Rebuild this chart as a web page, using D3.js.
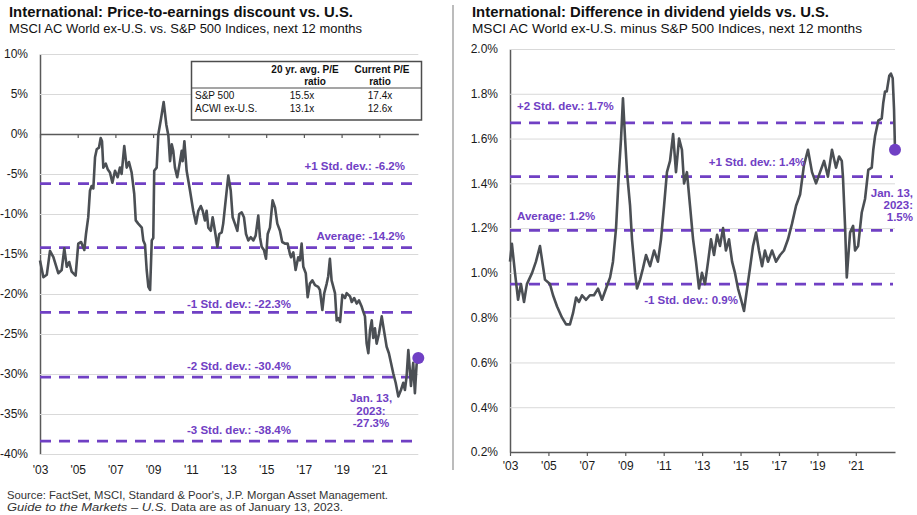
<!DOCTYPE html>
<html><head><meta charset="utf-8">
<script src="https://cdn.jsdelivr.net/npm/d3@7"></script>
<style>
body{margin:0;background:#fff;}
svg{display:block;font-family:"Liberation Sans",Arial,sans-serif;}
</style>
</head><body>
<svg id="chart" width="917" height="515"></svg>
<script>
// ---------------- DATA ----------------
const xTickYears = [2003,2005,2007,2009,2011,2013,2015,2017,2019,2021];

// Left: P/E discount (%)
const peYears = [2003.00,2003.18,2003.36,2003.53,2003.71,2003.97,2004.15,2004.29,2004.42,2004.55,2004.68,2004.89,
2005.03,2005.18,2005.35,2005.44,2005.56,2005.65,2005.74,2005.83,2005.92,2006.01,2006.13,2006.22,2006.29,2006.36,
2006.49,2006.59,2006.71,2006.84,2006.98,2007.12,2007.24,2007.33,2007.47,2007.60,2007.72,2007.86,2008.00,2008.08,
2008.21,2008.40,2008.48,2008.57,2008.66,2008.75,2008.84,2008.93,2009.01,2009.06,2009.19,2009.28,2009.42,2009.56,
2009.70,2009.81,2009.90,2009.99,2010.07,2010.16,2010.28,2010.43,2010.52,2010.57,2010.66,2010.78,2010.96,2011.13,
2011.28,2011.40,2011.53,2011.63,2011.75,2011.84,2011.93,2012.06,2012.16,2012.28,2012.41,2012.51,2012.64,2012.72,
2012.85,2012.99,2013.12,2013.22,2013.34,2013.47,2013.57,2013.70,2013.82,2013.93,2014.05,2014.18,2014.32,2014.44,
2014.58,2014.67,2014.76,2014.88,2014.99,2015.08,2015.20,2015.34,2015.47,2015.59,2015.73,2015.85,2016.00,2016.14,
2016.26,2016.32,2016.44,2016.56,2016.70,2016.79,2016.88,2016.97,2017.10,2017.20,2017.32,2017.45,2017.59,2017.76,
2017.85,2017.98,2018.08,2018.21,2018.29,2018.38,2018.47,2018.65,2018.74,2018.82,2018.92,2019.04,2019.18,2019.27,
2019.45,2019.54,2019.67,2019.80,2019.92,2020.07,2020.15,2020.24,2020.33,2020.42,2020.51,2020.60,2020.68,2020.77,
2020.86,2020.98,2021.13,2021.21,2021.30,2021.39,2021.51,2021.62,2021.74,2021.87,2022.01,2022.15,2022.27,2022.36,
2022.45,2022.54,2022.59,2022.68,2022.80,2022.89,2022.98,2023.07];
const peValues = [-15.8,-17.9,-17.6,-14.6,-15.4,-17.4,-17.0,-14.3,-16.6,-16.0,-17.2,-17.7,
-13.7,-13.5,-14.5,-12.5,-10.4,-7.1,-6.5,-6.8,-2.9,-1.9,-1.7,-0.5,-0.9,-4.2,
-3.7,-4.4,-4.8,-6.1,-4.6,-5.4,-4.2,-5.0,-1.5,-4.2,-3.5,-4.8,-7.5,-10.8,
-11.2,-11.7,-13.3,-13.8,-17.0,-19.1,-19.5,-13.3,-13.0,-4.6,-4.2,0.0,1.9,4.0,
1.2,-0.2,-3.4,-1.3,-2.1,-4.2,-5.4,-3.4,-2.1,-3.4,-0.9,-4.6,-7.1,-9.6,
-11.2,-9.6,-9.0,-9.6,-10.8,-9.6,-11.7,-12.1,-10.4,-12.1,-14.1,-12.5,-12.3,-11.2,
-8.3,-5.2,-7.1,-10.4,-11.2,-12.1,-10.0,-9.8,-10.4,-12.5,-13.3,-12.9,-13.3,-12.7,
-10.2,-12.9,-14.1,-14.5,-15.6,-12.5,-11.7,-8.3,-9.2,-11.2,-12.1,-13.5,-13.7,-13.7,
-15.0,-15.4,-14.8,-17.0,-15.4,-15.8,-13.7,-16.6,-17.4,-20.4,-18.7,-18.3,-18.9,-19.1,
-19.5,-22.0,-19.9,-18.7,-17.8,-15.6,-18.3,-19.9,-23.3,-23.0,-23.5,-20.1,-20.5,-19.9,
-20.3,-21.0,-20.5,-21.2,-20.8,-21.6,-22.2,-22.8,-26.2,-27.4,-24.5,-23.3,-25.5,-24.3,
-26.2,-25.0,-22.8,-24.0,-25.3,-26.6,-27.4,-28.6,-29.9,-31.1,-32.8,-32.0,-31.1,-32.0,
-30.3,-27.0,-28.5,-31.5,-28.6,-32.4,-28.8,-28.0];
const peTicks = [10,5,0,-5,-10,-15,-20,-25,-30,-35,-40];
const peStdLevels = [-6.2,-14.2,-22.3,-30.4,-38.4];
const peStdLabels = ["+1 Std. dev.: -6.2%","Average: -14.2%","-1 Std. dev.: -22.3%","-2 Std. dev.: -30.4%","-3 Std. dev.: -38.4%"];
const peLastLabel = ["Jan. 13,","2023:","-27.3%"];

const tableHeader1 = ["20 yr. avg. P/E","ratio"];
const tableHeader2 = ["Current P/E","ratio"];
const tableRows = ["S&P 500","ACWI ex-U.S."];
const tableAvg = ["15.5x","13.1x"];
const tableCurrent = ["17.4x","12.6x"];

// Right: dividend yield difference (%)
const dyYears = [2003.00,2003.10,2003.26,2003.42,2003.57,2003.73,2003.88,2004.15,2004.35,2004.56,2004.82,2005.08,
2005.24,2005.45,2005.71,2005.92,2006.12,2006.28,2006.44,2006.59,2006.75,2006.96,2007.16,2007.37,2007.58,2007.79,
2008.00,2008.21,2008.36,2008.52,2008.67,2008.78,2008.88,2008.99,2009.09,2009.25,2009.35,2009.51,2009.61,2009.77,
2009.92,2010.08,2010.29,2010.50,2010.70,2010.86,2011.02,2011.17,2011.33,2011.49,2011.64,2011.80,2011.95,2012.06,
2012.21,2012.37,2012.53,2012.68,2012.84,2012.99,2013.15,2013.31,2013.46,2013.62,2013.78,2013.93,2014.09,2014.24,
2014.40,2014.56,2014.71,2014.87,2015.03,2015.18,2015.34,2015.49,2015.65,2015.81,2015.96,2016.12,2016.27,2016.43,
2016.64,2016.85,2017.06,2017.26,2017.47,2017.68,2017.89,2018.10,2018.30,2018.51,2018.72,2018.93,2019.14,2019.35,
2019.55,2019.76,2019.97,2020.13,2020.27,2020.33,2020.44,2020.53,2020.70,2020.86,2020.96,2021.12,2021.31,2021.48,
2021.65,2021.83,2021.91,2022.00,2022.17,2022.35,2022.43,2022.52,2022.61,2022.74,2022.83,2022.92,2022.99,2023.04];
const dyValues = [1.05,1.13,1.00,0.88,0.95,0.87,0.95,1.00,1.05,1.12,0.97,0.95,
0.90,0.85,0.80,0.77,0.77,0.82,0.89,0.87,0.90,0.88,0.90,0.90,0.93,0.88,
0.93,0.98,1.05,1.20,1.45,1.60,1.78,1.60,1.45,1.30,1.15,1.00,0.93,0.97,
1.02,1.08,1.03,1.10,1.05,1.15,1.30,1.45,1.50,1.62,1.45,1.60,1.55,1.40,
1.45,1.30,1.15,1.05,0.93,1.00,0.95,1.05,1.15,1.08,1.17,1.12,1.20,1.10,
1.15,1.05,1.00,0.93,0.88,0.83,0.93,1.02,1.12,1.18,1.10,1.03,1.10,1.05,
1.10,1.05,1.08,1.10,1.15,1.22,1.30,1.35,1.48,1.55,1.45,1.40,1.45,1.50,
1.43,1.55,1.47,1.52,1.50,1.43,1.21,0.98,1.18,1.21,1.10,1.12,1.27,1.33,
1.46,1.47,1.55,1.61,1.68,1.69,1.76,1.81,1.81,1.88,1.89,1.87,1.73,1.55];
const dyTicks = [0.2,0.4,0.6,0.8,1.0,1.2,1.4,1.6,1.8,2.0];
const dyStdLevels = [1.67,1.43,1.19,0.95];
const dyStdLabels = ["+2 Std. dev.: 1.7%","+1 Std. dev.: 1.4%","Average: 1.2%","-1 Std. dev.: 0.9%"];
const dyLastLabel = ["Jan. 13,","2023:","1.5%"];

// ---------------- STYLE ----------------
const PURPLE = "#7040c4";
const LINE = "#4b4f54";
const GRID = "#d9d9d9";
const AXIS = "#595959";
const TXT = "#1a1a1a";

const svg = d3.select("#chart");

// ---------- titles ----------
function title(x, y, t, size, weight, len){
  svg.append("text").attr("x",x).attr("y",y).attr("font-size",size).attr("font-weight",weight)
    .attr("fill","#111").attr("textLength",len).attr("lengthAdjust","spacingAndGlyphs").text(t);
}
title(9, 17, "International: Price-to-earnings discount vs. U.S.", 15, "bold", 344);
title(9, 33, "MSCI AC World ex-U.S. vs. S&P 500 Indices, next 12 months", 13, "normal", 353);
title(472, 17, "International: Difference in dividend yields vs. U.S.", 15, "bold", 357);
title(472, 33, "MSCI AC World ex-U.S. minus S&P 500 Indices, next 12 months", 13, "normal", 390);

// divider
svg.append("line").attr("x1",453).attr("x2",453).attr("y1",5).attr("y2",470)
  .attr("stroke","#a6a6a6").attr("stroke-width",1.5);

// ============ LEFT CHART ============
const xL = d3.scaleLinear().domain([2003, 2023.07]).range([40, 418.3]);
const yL = d3.scaleLinear().domain([-40, 10]).range([454, 54]);
const L = svg.append("g");

const gyL = L.append("g").attr("transform","translate(40,0)")
  .call(d3.axisLeft(yL).tickValues(peTicks).tickSize(-378.3).tickSizeOuter(0).tickPadding(12).tickFormat(d=>d+"%"));
gyL.selectAll(".tick line").attr("stroke",GRID).attr("stroke-width",1);
gyL.selectAll(".tick text").attr("font-size",12).attr("fill",TXT).attr("font-family","Liberation Sans, Arial, sans-serif");
gyL.select(".domain").attr("stroke",AXIS).attr("stroke-width",1.5);

// zero line with ticks
const gzL = L.append("g").attr("transform",`translate(0,${yL(0)})`)
  .call(d3.axisBottom(xL).tickValues(xTickYears).tickSize(4).tickSizeOuter(0).tickFormat(""));
gzL.selectAll(".tick line").attr("stroke",AXIS).attr("stroke-width",1.2);
gzL.select(".domain").attr("stroke",AXIS).attr("stroke-width",1.5);

// x labels
const gxL = L.append("g").attr("transform",`translate(0,${yL(-40)})`)
  .call(d3.axisBottom(xL).tickValues(xTickYears).tickSize(0).tickPadding(11).tickFormat(d=>"'"+String(d).slice(2)));
gxL.select(".domain").remove();
gxL.selectAll(".tick text").attr("font-size",12).attr("fill",TXT).attr("font-family","Liberation Sans, Arial, sans-serif");

// std dev dashed lines
L.selectAll(".stdL").data(peStdLevels).enter().append("line")
  .attr("x1",40).attr("x2",418.3).attr("y1",d=>yL(d)).attr("y2",d=>yL(d))
  .attr("stroke",PURPLE).attr("stroke-width",2.8).attr("stroke-dasharray","11,8");

// series
L.append("path").datum(peYears.map((y,i)=>[y,peValues[i]]))
  .attr("d", d3.line().x(d=>xL(d[0])).y(d=>yL(d[1])))
  .attr("fill","none").attr("stroke",LINE).attr("stroke-width",2.6).attr("stroke-linejoin","round");

// end dot
L.append("circle").attr("cx",xL(peYears[peYears.length-1])).attr("cy",yL(peValues[peValues.length-1]))
  .attr("r",6).attr("fill",PURPLE);

// std labels
const peLabPos = [[405,170,"end"],[405,240,"end"],[239,308,"middle"],[239,370,"middle"],[239,434,"middle"]];
peStdLabels.forEach((t,i)=>{
  L.append("text").attr("x",peLabPos[i][0]).attr("y",peLabPos[i][1]).attr("text-anchor",peLabPos[i][2])
   .attr("font-size",11.5).attr("font-weight","bold").attr("fill",PURPLE).text(t);
});
peLastLabel.forEach((t,i)=>{
  L.append("text").attr("x",371).attr("y",402+i*12.5).attr("text-anchor","middle")
   .attr("font-size",11.5).attr("font-weight","bold").attr("fill",PURPLE).text(t);
});

// table
const T = L.append("g");
T.append("rect").attr("x",191.5).attr("y",61.5).attr("width",230).attr("height",58.5)
  .attr("fill","#fff").attr("stroke","#4d4d4d").attr("stroke-width",1.5);
T.append("line").attr("x1",191.5).attr("x2",421.5).attr("y1",88).attr("y2",88).attr("stroke","#4d4d4d").attr("stroke-width",1.2);
const hdr = (x,y,t)=>T.append("text").attr("x",x).attr("y",y).attr("text-anchor","middle")
   .attr("font-size",10).attr("font-weight","bold").attr("fill","#111").text(t);
hdr(305,73,tableHeader1[0]); hdr(315,84.5,tableHeader1[1]);
hdr(382,73,tableHeader2[0]); hdr(380,84.5,tableHeader2[1]);
tableRows.forEach((r,i)=>{
  const y = 99 + i*12.5;
  T.append("text").attr("x",195).attr("y",y).attr("font-size",10).attr("fill","#111").text(r);
  T.append("text").attr("x",302).attr("y",y).attr("text-anchor","middle").attr("font-size",10).attr("fill","#111").text(tableAvg[i]);
  T.append("text").attr("x",380).attr("y",y).attr("text-anchor","middle").attr("font-size",10).attr("fill","#111").text(tableCurrent[i]);
});

// ============ RIGHT CHART ============
const xR = d3.scaleLinear().domain([2003, 2023.04]).range([510, 895]);
const yR = d3.scaleLinear().domain([0.2, 2.0]).range([452, 49]);
const R = svg.append("g");

const gyR = R.append("g").attr("transform","translate(510,0)")
  .call(d3.axisLeft(yR).tickValues(dyTicks).tickSize(-385).tickSizeOuter(0).tickPadding(12).tickFormat(d=>d3.format(".1f")(d)+"%"));
gyR.selectAll(".tick line").attr("stroke",GRID).attr("stroke-width",1);
gyR.selectAll(".tick text").attr("font-size",12).attr("fill",TXT).attr("font-family","Liberation Sans, Arial, sans-serif");
gyR.select(".domain").attr("stroke",AXIS).attr("stroke-width",1.5);

const gxR = R.append("g").attr("transform",`translate(0,${yR(0.2)})`)
  .call(d3.axisBottom(xR).tickValues(xTickYears).tickSize(4).tickSizeOuter(0).tickPadding(5).tickFormat(d=>"'"+String(d).slice(2)));
gxR.selectAll(".tick line").attr("stroke",AXIS).attr("stroke-width",1.2);
gxR.select(".domain").attr("stroke",AXIS).attr("stroke-width",1.5);
gxR.selectAll(".tick text").attr("font-size",12).attr("fill",TXT).attr("font-family","Liberation Sans, Arial, sans-serif");

R.selectAll(".stdR").data(dyStdLevels).enter().append("line")
  .attr("x1",510).attr("x2",893).attr("y1",d=>yR(d)).attr("y2",d=>yR(d))
  .attr("stroke",PURPLE).attr("stroke-width",2.8).attr("stroke-dasharray","11,8");

R.append("path").datum(dyYears.map((y,i)=>[y,dyValues[i]]))
  .attr("d", d3.line().x(d=>xR(d[0])).y(d=>yR(d[1])))
  .attr("fill","none").attr("stroke",LINE).attr("stroke-width",2.6).attr("stroke-linejoin","round");

R.append("circle").attr("cx",xR(dyYears[dyYears.length-1])).attr("cy",yR(dyValues[dyValues.length-1]))
  .attr("r",6).attr("fill",PURPLE);

const dyLabPos = [[517,110,"start"],[757,166,"middle"],[517,220,"start"],[691,304,"middle"]];
dyStdLabels.forEach((t,i)=>{
  R.append("text").attr("x",dyLabPos[i][0]).attr("y",dyLabPos[i][1]).attr("text-anchor",dyLabPos[i][2])
   .attr("font-size",11.5).attr("font-weight","bold").attr("fill",PURPLE).text(t);
});
dyLastLabel.forEach((t,i)=>{
  R.append("text").attr("x",913).attr("y",197+i*12).attr("text-anchor","end")
   .attr("font-size",11.5).attr("font-weight","bold").attr("fill",PURPLE).text(t);
});

// ---------- footnote ----------
svg.append("text").attr("x",7).attr("y",499).attr("font-size",11).attr("fill","#333")
  .attr("textLength",381).attr("lengthAdjust","spacingAndGlyphs")
  .text("Source: FactSet, MSCI, Standard & Poor's, J.P. Morgan Asset Management.");
svg.append("text").attr("x",7).attr("y",511).attr("font-size",11).attr("fill","#333").attr("font-style","italic")
  .attr("textLength",160).attr("lengthAdjust","spacingAndGlyphs")
  .text("Guide to the Markets – U.S.");
svg.append("text").attr("x",171).attr("y",511).attr("font-size",11).attr("fill","#333")
  .attr("textLength",172).attr("lengthAdjust","spacingAndGlyphs")
  .text("Data are as of January 13, 2023.");
</script>
</body></html>
